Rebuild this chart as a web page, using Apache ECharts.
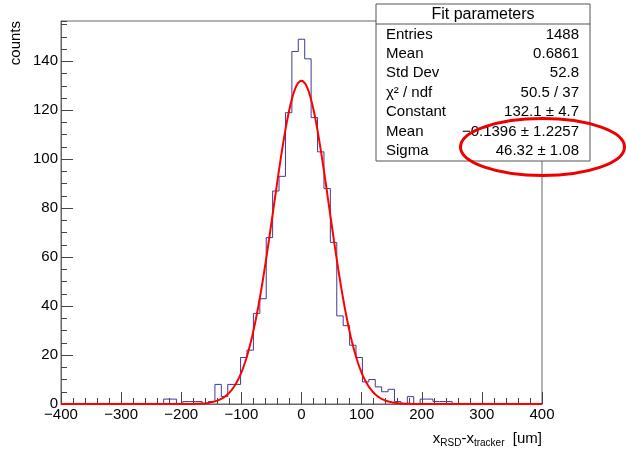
<!DOCTYPE html>
<html>
<head>
<meta charset="utf-8">
<script src="https://cdn.jsdelivr.net/npm/echarts@6/dist/echarts.min.js"></script>
<style>
  html, body { margin: 0; padding: 0; background: #ffffff; }
  #chart { width: 626px; height: 449px; }
</style>
</head>
<body>
<div id="chart"></div>
<script>
// Residual histogram: 75 equal bins over [-400, 400] um
const binRange = [-400, 400];
const binCounts = [
  0, 0, 0, 0, 0, 0, 0, 0, 0, 0, 0, 0, 0, 0, 0, 0,
  2, 2, 0, 1, 1, 1, 0, 1,
  8, 3, 8, 8, 19, 22, 37, 43, 68, 87, 93, 119, 144,
  149,
  141, 117, 103, 88, 66, 36, 32, 24, 19, 9, 10, 7, 5, 6,
  1, 0, 3, 0, 2, 2, 1, 1, 1,
  0, 0, 0, 0, 0, 0, 0, 0, 0, 0, 0, 0, 0, 0
];

// Gaussian fit result: constant, mean, sigma
const fitParams = [132.1, -0.1396, 46.32];

// Statistics box rows: [label, value]
const statLabels = ['Entries', 'Mean', 'Std Dev', '\u03C7\u00B2 / ndf', 'Constant', 'Mean', 'Sigma'];
const statValues = ['1488', '0.6861', '52.8', '50.5 / 37', '132.1 \u00B1 4.7', '\u22120.1396 \u00B1 1.2257', '46.32 \u00B1 1.08'];

const yTop = 156.45;
const FONT = '"Liberation Sans", Arial, Helvetica, sans-serif';
const AXIS_COLOR = '#666666';

// Step outline built from bin edges
const nBins = binCounts.length;
const binWidth = (binRange[1] - binRange[0]) / nBins;
const histPoints = binCounts.map((c, i) => [binRange[0] + i * binWidth, c]);
histPoints.push([binRange[1], binCounts[nBins - 1]]);

// Fit function sampled across the axis range
function gaus(x) {
  const z = (x - fitParams[1]) / fitParams[2];
  return fitParams[0] * Math.exp(-0.5 * z * z);
}
const fitPoints = [];
for (let x = binRange[0]; x <= binRange[1]; x += 2) fitPoints.push([x, gaus(x)]);

const chart = echarts.init(document.getElementById('chart'), null, { renderer: 'canvas' });

// Stats box geometry (canvas pixels)
const box = { x: 376, y: 4, w: 214, h: 157, head: 20 };
const rowY0 = 34.5, rowStep = 19.4;
const statTexts = [];
statLabels.forEach((lab, i) => {
  statTexts.push({
    type: 'text', z: 21,
    style: { x: box.x + 10, y: rowY0 + i * rowStep, text: lab, font: '15px ' + FONT,
             fill: '#000', align: 'left', verticalAlign: 'middle' }
  });
  statTexts.push({
    type: 'text', z: 21,
    style: { x: box.x + box.w - 11, y: rowY0 + i * rowStep, text: statValues[i], font: '15px ' + FONT,
             fill: '#000', align: 'right', verticalAlign: 'middle' }
  });
});

const option = {
  animation: false,
  backgroundColor: '#ffffff',
  grid: {
    left: 61, right: 84, top: 21, bottom: 45,
    show: true, borderColor: AXIS_COLOR, borderWidth: 1, backgroundColor: 'transparent'
  },
  xAxis: {
    type: 'value', min: binRange[0], max: binRange[1], interval: 100,
    axisLine: { show: true, onZero: false, lineStyle: { color: AXIS_COLOR, width: 1 } },
    axisTick: { show: true, inside: true, length: 12, lineStyle: { color: '#444', width: 1 } },
    minorTick: { show: true, splitNumber: 5, length: 6, lineStyle: { color: '#444', width: 1 } },
    splitLine: { show: false },
    axisLabel: {
      margin: 3, fontSize: 15, fontFamily: FONT, color: '#000',
      formatter: v => (v < 0 ? '\u2212' + Math.abs(v) : String(v))
    }
  },
  yAxis: [
    {
      type: 'value', position: 'left', min: 0, max: yTop, interval: 20,
      axisLine: { show: true, onZero: false, lineStyle: { color: AXIS_COLOR, width: 1 } },
      axisTick: { show: true, inside: true, length: 12, lineStyle: { color: '#444', width: 1 } },
      splitLine: { show: false },
      axisLabel: { margin: 3, fontSize: 15, fontFamily: FONT, color: '#000', showMaxLabel: false }
    },
    {
      type: 'value', position: 'left', offset: 0, min: 0, max: yTop, interval: 5,
      axisLine: { show: false, onZero: false },
      axisTick: { show: true, inside: true, length: 6, lineStyle: { color: '#444', width: 1 } },
      splitLine: { show: false },
      axisLabel: { show: false }
    }
  ],
  series: [
    {
      name: 'hist', type: 'line', step: 'end', data: histPoints, yAxisIndex: 0,
      showSymbol: false, z: 2,
      lineStyle: { color: '#3c3c96', width: 1 }
    },
    {
      name: 'fit', type: 'line', data: fitPoints, yAxisIndex: 0,
      showSymbol: false, z: 3, smooth: false,
      lineStyle: { color: '#ff0000', width: 2 }
    }
  ],
  graphic: [
    // y-axis title
    {
      type: 'text', x: 16, y: 21, rotation: Math.PI / 2, z: 20,
      style: { text: 'counts', font: '15px ' + FONT, fill: '#000', align: 'right', verticalAlign: 'middle' }
    },
    // x-axis title with subscripts
    {
      type: 'text', x: 542, y: 439, z: 20,
      style: {
        text: '{a|x}{s|RSD}{a|-x}{s|tracker}{a|  [um]}',
        align: 'right', verticalAlign: 'middle', fill: '#000',
        rich: {
          a: { fontSize: 15, fontFamily: FONT, lineHeight: 20, fill: '#000', color: '#000' },
          s: { fontSize: 10, fontFamily: FONT, lineHeight: 11, padding: [9, 0, 0, 0], fill: '#000', color: '#000' }
        }
      }
    },
    // statistics box
    {
      type: 'rect', z: 20,
      shape: { x: box.x, y: box.y, width: box.w, height: box.h },
      style: { fill: '#ffffff', stroke: '#555555', lineWidth: 1 }
    },
    {
      type: 'line', z: 21,
      shape: { x1: box.x, y1: box.y + box.head, x2: box.x + box.w, y2: box.y + box.head },
      style: { stroke: '#555555', lineWidth: 1 }
    },
    {
      type: 'text', z: 21,
      style: { x: box.x + box.w / 2, y: box.y + box.head / 2 + 0.5, text: 'Fit parameters',
               font: '16px ' + FONT, fill: '#000', align: 'center', verticalAlign: 'middle' }
    },
    ...statTexts,
    // highlight ring around the sigma value
    {
      type: 'ellipse', z: 30,
      shape: { cx: 542.5, cy: 147, rx: 82, ry: 28.5 },
      style: { fill: 'none', stroke: '#ee0000', lineWidth: 3 }
    }
  ]
};

chart.setOption(option);
</script>
</body>
</html>
